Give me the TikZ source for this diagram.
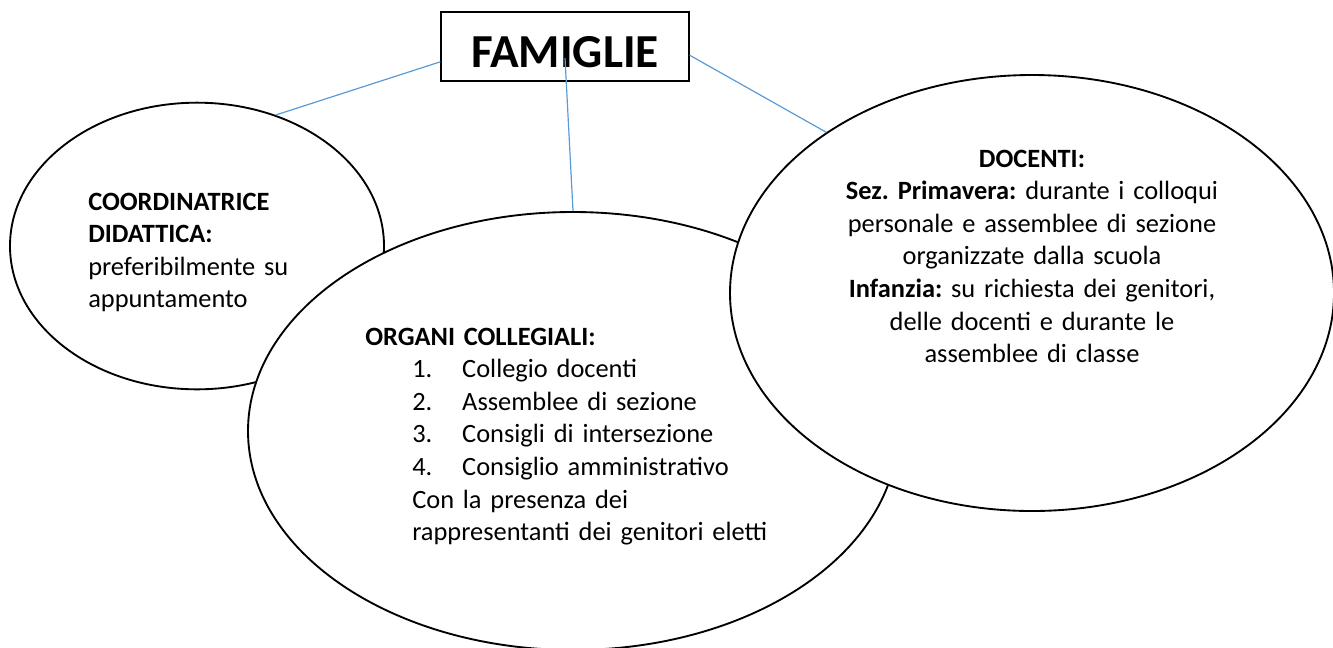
\documentclass[tikz,border=0pt]{standalone}
\usepackage{fontspec}
\setmainfont{Carlito}
\usetikzlibrary{shapes.geometric}
\definecolor{linkblue}{RGB}{91,155,213}
\frenchspacing

\begin{document}
\begin{tikzpicture}[x=0.75pt, y=-0.75pt,
		bubble/.style={ellipse, draw=black, line width=1.4pt, fill=white, inner sep=0pt},
		link/.style={draw=linkblue, line width=0.9pt},
		body/.style={font=\fontsize{19.8}{24.45}\selectfont, inner sep=0pt}]
		\useasboundingbox (0, 0) rectangle (1333, 647);
		
		\node[bubble, minimum width=280.5pt, minimum height=215pt] (coord) at (197, 246) {};
		\node[bubble, minimum width=487.5pt, minimum height=328.5pt] (organi) at (573, 431) {};
		\node[bubble, minimum width=453pt, minimum height=327pt] (docenti) at (1032, 293) {};
		
		\node[draw, line width=1pt, inner sep=2pt, minimum width=186pt, minimum height=51.75pt,
			text height=30.75pt, text depth=0pt, font=\fontsize{35.5}{42}\selectfont\bfseries] (fam) at (565, 46.5) {FAMIGLIE};
		\coordinate (famdrop) at (565, 58);
		
		\draw[link] (fam.187.6) -- (coord.59);
		\draw[link] (famdrop) -- (organi.north);
		\draw[link] (fam.-4) -- (docenti.142);
		
		\node[body, anchor=base west, text width=225pt, align=left] (coordtxt) at (88, 210)
			{\textbf{COORDINATRICE}\\ \textbf{DIDATTICA:}\\ preferibilmente su\\ appuntamento};
		
		\node[body, anchor=base west, text width=330pt, align=left] (organitxt) at (365, 345)
			{\textbf{ORGANI COLLEGIALI:}\\
			\hspace*{35.25pt}\makebox[37.5pt][l]{1.}Collegio docenti\\
			\hspace*{35.25pt}\makebox[37.5pt][l]{2.}Assemblee di sezione\\
			\hspace*{35.25pt}\makebox[37.5pt][l]{3.}Consigli di intersezione\\
			\hspace*{35.25pt}\makebox[37.5pt][l]{4.}Consiglio amministrativo\\
			\hspace*{35.25pt}Con la presenza dei\\
			\hspace*{35.25pt}rappresentanti dei genitori eletti};
		
		\node[body, anchor=base, text width=330pt, align=center] (docentitxt) at (1032, 167)
			{\textbf{DOCENTI:}\\
			\textbf{Sez. Primavera:} durante i colloqui\\
			personale e assemblee di sezione\\
			organizzate dalla scuola\\
			\textbf{Infanzia:} su richiesta dei genitori,\\
			delle docenti e durante le\\
			assemblee di classe};
	\end{tikzpicture}
\end{document}
